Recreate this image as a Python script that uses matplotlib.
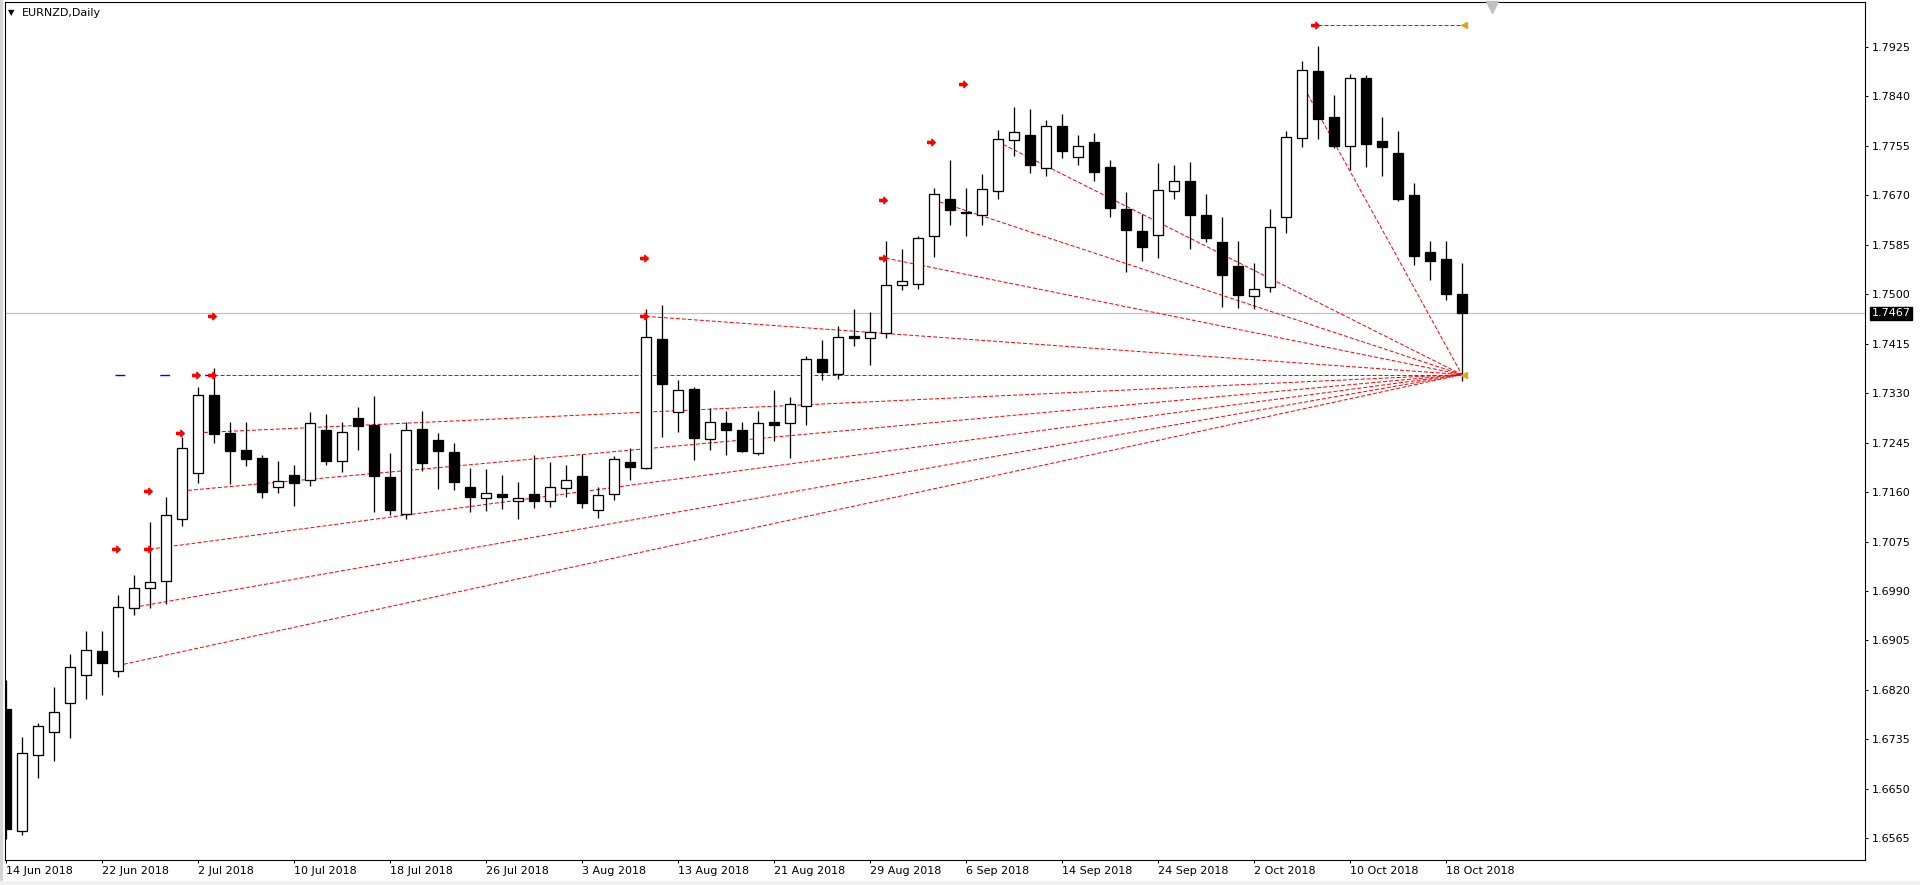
import matplotlib
matplotlib.use('Agg')
import matplotlib.pyplot as plt
from matplotlib.path import Path
import numpy as np
import pandas as pd

# daily OHLC, EURNZD, 14 Jun 2018 .. 19 Oct 2018
opens = [1.6788, 1.6577, 1.6709, 1.6747, 1.6798, 1.6846, 1.6887, 1.6853, 1.6960, 1.6996,
         1.7008, 1.7114, 1.7193, 1.7327, 1.7261, 1.7233, 1.7218, 1.7168, 1.7190, 1.7181,
         1.7266, 1.7214, 1.7287, 1.7276, 1.7186, 1.7123, 1.7269, 1.7250, 1.7229, 1.7169,
         1.7150, 1.7157, 1.7145, 1.7157, 1.7145, 1.7167, 1.7187, 1.7130, 1.7157, 1.7212,
         1.7202, 1.7423, 1.7298, 1.7337, 1.7252, 1.7279, 1.7267, 1.7227, 1.7281, 1.7279,
         1.7308, 1.7389, 1.7363, 1.7429, 1.7425, 1.7434, 1.7516, 1.7518, 1.7600, 1.7664,
         1.7641, 1.7637, 1.7678, 1.7765, 1.7773, 1.7717, 1.7789, 1.7736, 1.7761, 1.7718,
         1.7647, 1.7609, 1.7602, 1.7678, 1.7694, 1.7637, 1.7589, 1.7548, 1.7497, 1.7513,
         1.7633, 1.7769, 1.7884, 1.7804, 1.7755, 1.7871, 1.7764, 1.7743, 1.7670, 1.7572,
         1.7561, 1.7500]
highs = [1.6837, 1.6739, 1.6764, 1.6825, 1.6882, 1.6922, 1.6922, 1.6983, 1.7017, 1.7109,
         1.7152, 1.7255, 1.7341, 1.7374, 1.7280, 1.7280, 1.7224, 1.7214, 1.7207, 1.7298,
         1.7295, 1.7281, 1.7306, 1.7326, 1.7228, 1.7281, 1.7300, 1.7261, 1.7245, 1.7202,
         1.7200, 1.7189, 1.7178, 1.7223, 1.7211, 1.7206, 1.7225, 1.7169, 1.7222, 1.7236,
         1.7474, 1.7482, 1.7352, 1.7341, 1.7305, 1.7300, 1.7280, 1.7300, 1.7335, 1.7324,
         1.7394, 1.7422, 1.7446, 1.7474, 1.7469, 1.7592, 1.7577, 1.7600, 1.7682, 1.7730,
         1.7682, 1.7707, 1.7782, 1.7822, 1.7819, 1.7800, 1.7810, 1.7773, 1.7778, 1.7731,
         1.7675, 1.7638, 1.7725, 1.7723, 1.7728, 1.7673, 1.7632, 1.7591, 1.7553, 1.7646,
         1.7780, 1.7901, 1.7926, 1.7843, 1.7879, 1.7876, 1.7804, 1.7781, 1.7692, 1.7592,
         1.7592, 1.7553]
lows = [1.6564, 1.6571, 1.6669, 1.6698, 1.6737, 1.6805, 1.6811, 1.6842, 1.6949, 1.6960,
        1.6968, 1.7101, 1.7176, 1.7244, 1.7174, 1.7204, 1.7150, 1.7158, 1.7136, 1.7170,
        1.7207, 1.7195, 1.7232, 1.7126, 1.7120, 1.7114, 1.7196, 1.7165, 1.7163, 1.7126,
        1.7127, 1.7131, 1.7113, 1.7132, 1.7134, 1.7151, 1.7132, 1.7115, 1.7146, 1.7180,
        1.7200, 1.7254, 1.7263, 1.7215, 1.7232, 1.7223, 1.7229, 1.7224, 1.7247, 1.7218,
        1.7275, 1.7353, 1.7354, 1.7411, 1.7378, 1.7425, 1.7508, 1.7509, 1.7564, 1.7619,
        1.7600, 1.7619, 1.7663, 1.7737, 1.7708, 1.7703, 1.7735, 1.7723, 1.7694, 1.7632,
        1.7538, 1.7558, 1.7562, 1.7663, 1.7577, 1.7589, 1.7478, 1.7476, 1.7475, 1.7504,
        1.7605, 1.7753, 1.7766, 1.7751, 1.7713, 1.7718, 1.7703, 1.7661, 1.7550, 1.7524,
        1.7490, 1.7351]
closes = [1.6581, 1.6712, 1.6758, 1.6782, 1.6860, 1.6889, 1.6867, 1.6963, 1.6996, 1.7006,
          1.7121, 1.7236, 1.7327, 1.7260, 1.7230, 1.7217, 1.7160, 1.7179, 1.7176, 1.7279,
          1.7213, 1.7263, 1.7273, 1.7187, 1.7129, 1.7267, 1.7210, 1.7230, 1.7177, 1.7151,
          1.7159, 1.7151, 1.7149, 1.7144, 1.7169, 1.7181, 1.7141, 1.7155, 1.7217, 1.7203,
          1.7427, 1.7345, 1.7336, 1.7253, 1.7281, 1.7266, 1.7230, 1.7279, 1.7275, 1.7312,
          1.7389, 1.7366, 1.7427, 1.7425, 1.7436, 1.7516, 1.7523, 1.7597, 1.7672, 1.7644,
          1.7640, 1.7681, 1.7767, 1.7779, 1.7723, 1.7789, 1.7747, 1.7755, 1.7710, 1.7648,
          1.7610, 1.7582, 1.7680, 1.7695, 1.7636, 1.7596, 1.7533, 1.7498, 1.7509, 1.7616,
          1.7770, 1.7886, 1.7801, 1.7754, 1.7872, 1.7758, 1.7753, 1.7663, 1.7565, 1.7558,
          1.7500, 1.7467]

date_labels = ['14 Jun 2018', '22 Jun 2018', '2 Jul 2018', '10 Jul 2018', '18 Jul 2018',
               '26 Jul 2018', '3 Aug 2018', '13 Aug 2018', '21 Aug 2018', '29 Aug 2018',
               '6 Sep 2018', '14 Sep 2018', '24 Sep 2018', '2 Oct 2018', '10 Oct 2018',
               '18 Oct 2018']
price_ticks = [1.6565, 1.6650, 1.6735, 1.6820, 1.6905, 1.6990, 1.7075, 1.7160, 1.7245,
               1.7330, 1.7415, 1.7500, 1.7585, 1.7670, 1.7755, 1.7840, 1.7925]
last_price = 1.7467

# fan lines: start bar / start level, all run to the pivot
fan_bar = [7, 8, 9, 11, 12, 40, 55, 58, 62, 81]
fan_level = [1.6862, 1.6962, 1.7062, 1.7162, 1.7262, 1.7462, 1.7562, 1.7662, 1.7762, 1.7862]
pivot_bar, pivot_level = 91, 1.7362
flat_bar = 13          # horizontal at pivot level
blue_bars = [6.8, 13]  # blue dashed level, left part
top_bar, top_level = 82, 1.7962
# arrow marks
mark_bar = [7, 9, 9, 11, 12, 13, 13, 40, 40, 55, 55, 58, 60, 82]
mark_level = [1.7062, 1.7062, 1.7162, 1.7262, 1.7362, 1.7362, 1.7462, 1.7462,
              1.7562, 1.7562, 1.7662, 1.7762, 1.7862, 1.7962]

W, H = 1920, 885
PX = 0.72  # one pixel in points

fig = plt.figure(figsize=(W / 100, H / 100), dpi=100)
fig.patch.set_facecolor('white')
ax = fig.add_axes([5 / W, 25 / H, 1860 / W, 858 / H])
ax.set_xlim(-0.06, 116.2)
ax.set_ylim(1.65277, 1.80023)

idx = np.arange(len(opens))
o = np.array(opens); c = np.array(closes)

# current price line
ax.axhline(last_price, color='#c0c0c0', lw=1.2 * PX, zorder=0.5)

red_dash = (0, (4, 2))
ax.plot(blue_bars, [pivot_level, pivot_level], color='#0000ff', lw=1.4 * PX,
        linestyle=(0, (7, 25)), zorder=0.8)
ax.plot([flat_bar, pivot_bar], [pivot_level, pivot_level], color='red', lw=PX,
        linestyle=red_dash, zorder=1)
for b, lv in zip(fan_bar, fan_level):
    ax.plot([b, pivot_bar], [lv, pivot_level], color='red', lw=PX, linestyle=red_dash, zorder=1)
ax.plot([top_bar, pivot_bar], [top_level, top_level], color='red', lw=PX,
        linestyle=red_dash, zorder=1)

# candles
ax.vlines(idx, lows, highs, color='black', lw=1.3 * PX, zorder=2)
up = c >= o
body = np.maximum(np.abs(c - o), 0.00003)
ax.bar(idx[up], body[up], bottom=np.minimum(o, c)[up], width=0.62,
       color='white', edgecolor='black', linewidth=1.3 * PX, zorder=3)
ax.bar(idx[~up], body[~up], bottom=np.minimum(o, c)[~up], width=0.62,
       color='black', edgecolor='black', linewidth=1.3 * PX, zorder=3)

# arrow marks
arrow = Path([(-1, -0.3), (0.1, -0.3), (0.1, -0.85), (1, 0), (0.1, 0.85), (0.1, 0.3),
              (-1, 0.3), (-1, -0.3)])
ax.plot(np.array(mark_bar) - 0.15, mark_level, linestyle='none', marker=arrow,
        markersize=5.5, color='red', zorder=5)
ax.plot([pivot_bar + 0.15, pivot_bar + 0.15], [pivot_level, top_level], linestyle='none',
        marker='<', markersize=5, color='#daa520', zorder=5)
# chart shift marker
ax.plot([92.9], [0.994], transform=ax.get_xaxis_transform(), marker='v', markersize=8,
        color='#c0c0c0', clip_on=False, zorder=6)

# axes styling
for s in ax.spines.values():
    s.set_linewidth(1.1 * PX)
    s.set_color('black')
ax.yaxis.tick_right()
ax.set_yticks(price_ticks)
ax.set_yticklabels([f'{p:.4f}' for p in price_ticks])
ax.tick_params(axis='y', direction='out', length=3 * PX, width=PX, pad=3, labelsize=8)

dates = pd.bdate_range('2018-06-14', periods=len(opens))
date_str = [f'{d.day} {d.strftime("%b %Y")}' for d in dates]
ax.set_xticks([date_str.index(s) for s in date_labels])
ax.set_xticklabels(date_labels)
for lbl in ax.get_xticklabels():
    lbl.set_horizontalalignment('left')
ax.tick_params(axis='x', direction='out', length=3 * PX, width=PX, pad=2, labelsize=8)

# current price tag
ax.text(1.0036, last_price, f'{last_price:.4f}', transform=ax.get_yaxis_transform(),
        ha='left', va='center', fontsize=8, color='white', zorder=10,
        bbox=dict(boxstyle='square,pad=0.12', facecolor='black', edgecolor='black'))

# title
fig.text(8 / W, 1 - 13 / H, '\u25bc', fontsize=6, va='center', ha='left')
fig.text(22 / W, 1 - 13 / H, 'EURNZD,Daily', fontsize=8, va='center', ha='left')

# window frame strips
fig.patches.append(plt.Rectangle((0, 0), 2 / W, 1, transform=fig.transFigure,
                                 color='#d4d4d4', zorder=-1))
fig.patches.append(plt.Rectangle((0, 0), 1, 4 / H, transform=fig.transFigure,
                                 color='#f0f0f0', zorder=-1))

fig.savefig('out.png', dpi=100, facecolor='white')
